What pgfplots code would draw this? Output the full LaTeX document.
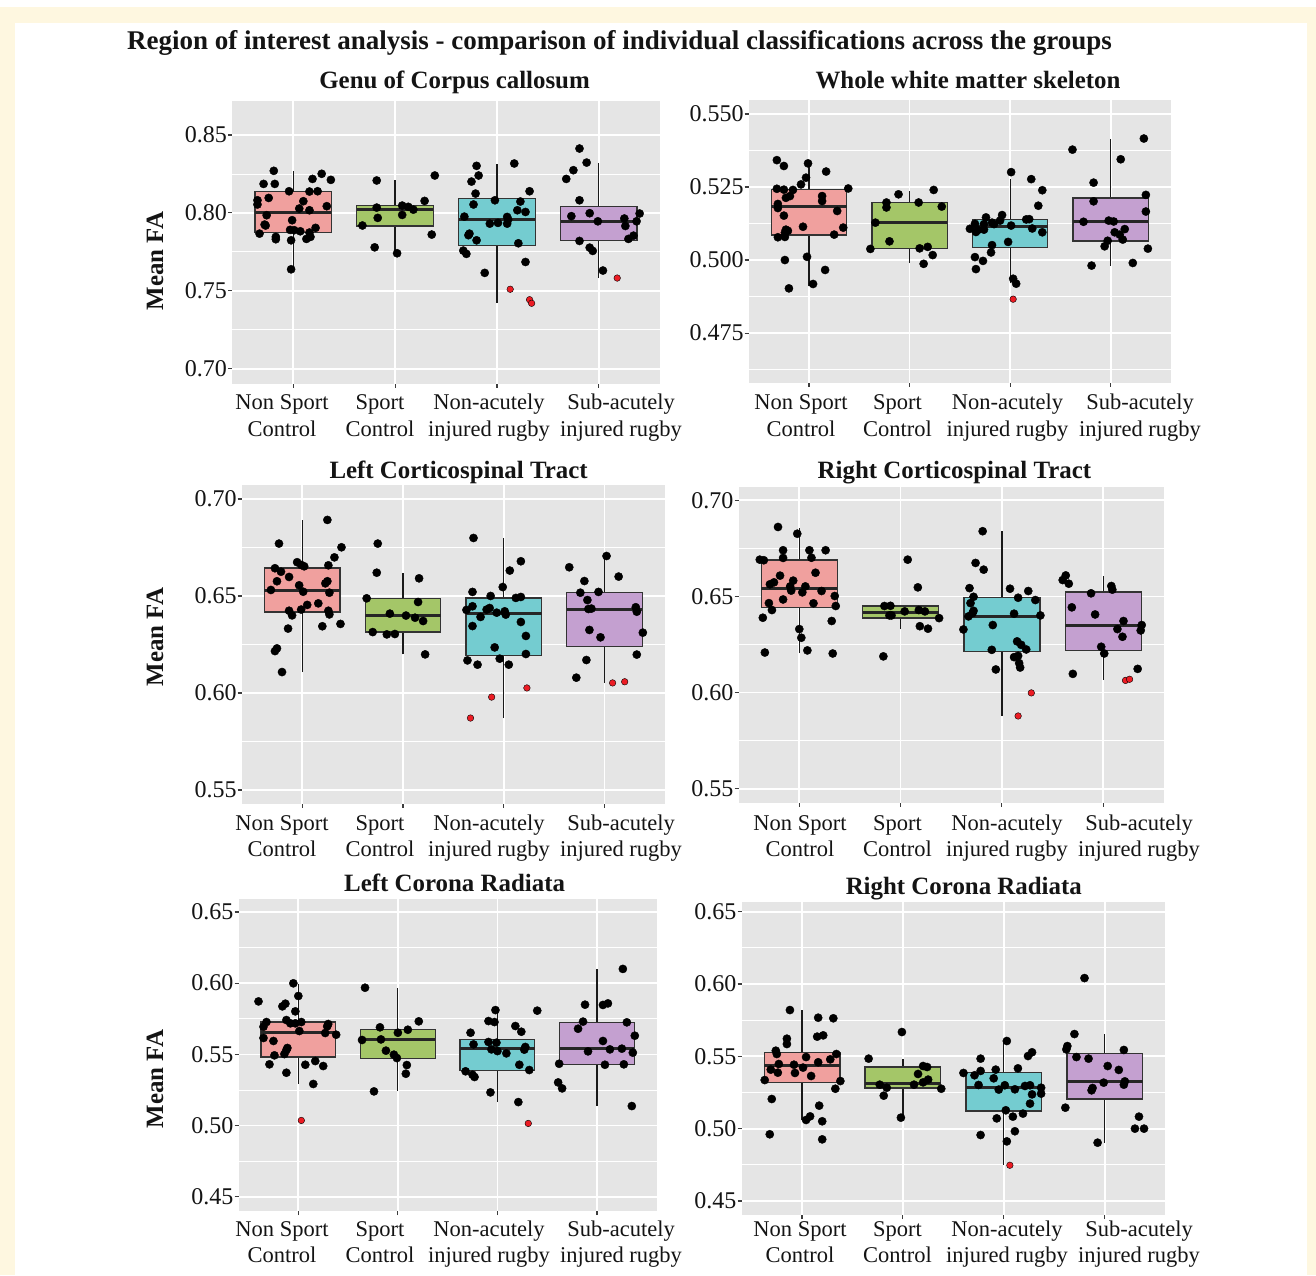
\documentclass[border=0pt]{standalone}
\usepackage{pgfplots}
\pgfplotsset{compat=1.18}
\usepackage{fontspec}
\setmainfont{Liberation Serif}

\definecolor{frameyellow}{RGB}{254,247,224}
\definecolor{panelgray}{RGB}{229,229,229}
\definecolor{boxline}{RGB}{51,51,51}
\definecolor{tickgray}{RGB}{60,60,60}
\definecolor{cpink}{RGB}{240,160,158}
\definecolor{cgreen}{RGB}{164,198,104}
\definecolor{ccyan}{RGB}{116,204,208}
\definecolor{cpurple}{RGB}{196,160,208}
\definecolor{outred}{RGB}{236,28,36}
\definecolor{txt}{RGB}{20,20,20}

\newcommand{\mainsize}{\fontsize{27}{27}\selectfont\bfseries}
\newcommand{\ttlsize}{\fontsize{24.9}{24.9}\selectfont\bfseries}
\newcommand{\ticksize}{\fontsize{24}{24}\selectfont}
\newcommand{\labsize}{\fontsize{22.5}{22.5}\selectfont}

\pgfplotsset{
  ggpanel/.style={
    scale only axis, anchor=south west,
    xmin=0.4, xmax=4.6,
    axis background/.style={fill=panelgray},
    axis line style={draw=none},
    xtick={1,2,3,4}, xticklabels={},
    tick pos=left,
    xmajorgrids, ymajorgrids, yminorgrids,
    major grid style={draw=white, line width=1.7pt},
    minor grid style={draw=white, line width=0.8pt},
    tick align=outside, major tick length=4pt, minor tick length=0pt,
    tick style={draw=tickgray, line width=1.1pt},
    yticklabel style={font=\ticksize, text=txt, anchor=east, inner sep=0pt, xshift=-1pt},
  },
  jit/.style={only marks, mark=*, mark size=4.1pt, mark options={draw=none, fill=black}},
  outl/.style={only marks, mark=*, mark size=3.3pt, mark options={draw=none, fill=outred}},
}

% box and whiskers: #1 position, #2 fill, #3 lower whisker, #4 Q1, #5 median, #6 Q3, #7 upper whisker
\newcommand{\ggbox}[7]{%
  \pgfmathsetmacro\bl{#1-0.375}\pgfmathsetmacro\br{#1+0.375}%
  \addplot[draw=black!90, line width=1.2pt] coordinates {(#1,#3) (#1,#4)};
  \addplot[draw=black!90, line width=1.2pt] coordinates {(#1,#6) (#1,#7)};
  \addplot[fill=#2, draw=boxline, line width=1.3pt] coordinates {(\bl,#4) (\br,#4) (\br,#6) (\bl,#6)} -- cycle;
  \addplot[draw=black!85, line width=3pt] coordinates {(\bl,#5) (\br,#5)};}

% two-line group names under a panel: #1 first baseline, #2 second baseline, #3-#6 centres (pt)
\newcommand{\grouplabels}[6]{%
  \node[anchor=base, font=\labsize, text=txt] at (#3pt,#1pt) {Non Sport};
  \node[anchor=base, font=\labsize, text=txt] at (#3pt,#2pt) {Control};
  \node[anchor=base, font=\labsize, text=txt] at (#4pt,#1pt) {Sport};
  \node[anchor=base, font=\labsize, text=txt] at (#4pt,#2pt) {Control};
  \node[anchor=base, font=\labsize, text=txt] at (#5pt,#1pt) {Non-acutely};
  \node[anchor=base, font=\labsize, text=txt] at (#5pt,#2pt) {injured rugby};
  \node[anchor=base, font=\labsize, text=txt] at (#6pt,#1pt) {Sub-acutely};
  \node[anchor=base, font=\labsize, text=txt] at (#6pt,#2pt) {injured rugby};}

\begin{document}
\begin{tikzpicture}
\fill[white] (0pt,0pt) rectangle (1316pt,1275pt);
\fill[frameyellow] (0pt,0pt) rectangle (1316pt,1268pt);
\fill[white] (15pt,0pt) rectangle (1307pt,1252pt);

\node[anchor=base, font=\mainsize, text=txt] at (619.5pt,1225pt)
  {Region of interest analysis - comparison of individual classifications across the groups};

% ---------------- Genu of Corpus callosum ----------------
\node[anchor=base, font=\ttlsize, text=txt] at (454.6pt,1186.7pt) {Genu of Corpus callosum};
\node[rotate=90, font=\ttlsize, text=txt] at (155pt,1014pt) {Mean FA};
\begin{axis}[ggpanel, at={(232pt,891pt)}, width=428pt, height=282.5pt,
  ymin=0.6902, ymax=0.8715,
  ytick={0.70,0.75,0.80,0.85}, yticklabels={0.70,0.75,0.80,0.85},
  minor ytick={0.725,0.775,0.825}]
\ggbox{1}{cpink}{0.7642}{0.7876}{0.8002}{0.8139}{0.8268}
\ggbox{2}{cgreen}{0.7741}{0.7916}{0.8024}{0.8047}{0.8208}
\ggbox{3}{ccyan}{0.7422}{0.7792}{0.7957}{0.8092}{0.8313}
\ggbox{4}{cpurple}{0.7582}{0.7822}{0.7946}{0.8043}{0.8321}
\addplot[jit] coordinates {(0.81,0.8270) (0.71,0.8186) (0.82,0.8186) (0.96,0.8139) (1.28,0.8251) (1.19,0.8218) (1.37,0.8212) (0.76,0.8096) (1.16,0.8137) (1.24,0.8139) (0.65,0.8081) (0.65,0.8054) (1.10,0.8075) (1.33,0.8043) (1.06,0.8028) (1.16,0.8017) (0.74,0.7985) (0.99,0.7953) (0.72,0.7925) (0.73,0.7919) (1.22,0.7904) (0.97,0.7891) (1.01,0.7889) (1.07,0.7882) (0.67,0.7867) (1.16,0.7874) (1.17,0.7846) (0.83,0.7846) (0.83,0.7831) (1.13,0.7833) (0.98,0.7824) (0.98,0.7638)};
\addplot[jit] coordinates {(1.82,0.8208) (2.39,0.8240) (2.29,0.8077) (2.07,0.8047) (2.13,0.8039) (2.18,0.8021) (1.82,0.8034) (2.07,0.7987) (1.83,0.7968) (1.68,0.7919) (2.36,0.7861) (1.80,0.7779) (2.02,0.7741)};
\addplot[jit] coordinates {(2.80,0.8302) (3.17,0.8317) (2.82,0.8240) (2.75,0.8201) (2.79,0.8124) (3.32,0.8139) (2.98,0.8081) (3.23,0.8073) (2.77,0.8054) (3.20,0.8017) (3.28,0.8006) (2.68,0.7976) (3.10,0.7974) (3.11,0.7957) (3.01,0.7936) (2.93,0.7931) (3.10,0.7931) (2.73,0.7867) (2.72,0.7857) (2.80,0.7824) (3.21,0.7805) (2.67,0.7758) (2.70,0.7737) (3.28,0.7685) (2.88,0.7615)};
\addplot[jit] coordinates {(3.81,0.8413) (3.88,0.8323) (3.75,0.8274) (3.68,0.8218) (3.81,0.8081) (3.73,0.7979) (3.91,0.7998) (3.99,0.7946) (4.25,0.7964) (4.26,0.7916) (4.37,0.7946) (4.40,0.7996) (3.81,0.7820) (3.91,0.7777) (3.94,0.7756) (4.29,0.7833) (4.34,0.7854) (4.04,0.7630)};
\addplot[outl] coordinates {(3.13,0.7510) (3.32,0.7443) (3.34,0.7420) (4.18,0.7582)};
\end{axis}
\grouplabels{865.7}{838.3}{282}{380}{489}{621}

% ---------------- Whole white matter skeleton ----------------
\node[anchor=base, font=\ttlsize, text=txt] at (968pt,1186pt) {Whole white matter skeleton};
\begin{axis}[ggpanel, at={(748.7pt,892pt)}, width=422.3pt, height=283.3pt,
  ymin=0.4579, ymax=0.5549,
  ytick={0.475,0.500,0.525,0.550}, yticklabels={0.475,0.500,0.525,0.550},
  minor ytick={0.4625,0.4875,0.5125,0.5375}]
\ggbox{1}{cpink}{0.4910}{0.5086}{0.5183}{0.5241}{0.5330}
\ggbox{2}{cgreen}{0.4989}{0.5040}{0.5128}{0.5197}{0.5237}
\ggbox{3}{ccyan}{0.4920}{0.5043}{0.5116}{0.5139}{0.5277}
\ggbox{4}{cpurple}{0.4981}{0.5065}{0.5131}{0.5212}{0.5414}
\addplot[jit] coordinates {(0.68,0.5342) (0.75,0.5322) (0.99,0.5331) (1.17,0.5303) (0.97,0.5282) (0.92,0.5259) (0.68,0.5244) (0.75,0.5241) (0.84,0.5240) (1.39,0.5245) (1.13,0.5219) (1.13,0.5202) (0.77,0.5213) (0.81,0.5219) (0.69,0.5192) (0.69,0.5178) (1.28,0.5168) (0.75,0.5152) (0.94,0.5114) (0.77,0.5104) (0.76,0.5094) (0.79,0.5100) (0.69,0.5078) (0.76,0.5079) (1.25,0.5087) (1.34,0.5111) (0.98,0.5011) (0.76,0.5000) (1.16,0.4966) (1.04,0.4918) (0.80,0.4903)};
\addplot[jit] coordinates {(1.89,0.5225) (2.24,0.5240) (1.77,0.5197) (2.09,0.5197) (1.77,0.5180) (2.32,0.5183) (1.66,0.5128) (1.80,0.5064) (1.61,0.5038) (2.10,0.5040) (2.18,0.5045) (2.23,0.5017) (2.14,0.4987)};
\addplot[jit] coordinates {(3.01,0.5301) (3.21,0.5277) (3.32,0.5239) (3.28,0.5186) (2.76,0.5146) (2.92,0.5154) (2.90,0.5135) (2.82,0.5128) (2.74,0.5123) (2.65,0.5124) (2.60,0.5107) (2.68,0.5103) (2.74,0.5104) (2.84,0.5123) (2.66,0.5096) (3.01,0.5118) (3.16,0.5139) (3.19,0.5140) (3.22,0.5108) (3.32,0.5095) (2.98,0.5062) (2.82,0.5051) (2.81,0.5026) (2.65,0.5010) (2.73,0.4997) (2.66,0.4969) (3.03,0.4936) (3.06,0.4919)};
\addplot[jit] coordinates {(3.62,0.5378) (4.33,0.5416) (4.10,0.5345) (3.83,0.5265) (4.35,0.5223) (3.83,0.5201) (4.35,0.5166) (3.73,0.5131) (3.98,0.5135) (4.03,0.5132) (4.14,0.5106) (4.04,0.5095) (4.09,0.5087) (4.12,0.5070) (3.97,0.5066) (3.94,0.5047) (4.37,0.5039) (3.81,0.4981) (4.22,0.4990)};
\addplot[outl] coordinates {(3.03,0.4866)};
\end{axis}
\grouplabels{865.7}{838.3}{801}{897.5}{1007.5}{1140}

% ---------------- Left Corticospinal Tract ----------------
\node[anchor=base, font=\ttlsize, text=txt] at (458.6pt,796pt) {Left Corticospinal Tract};
\node[rotate=90, font=\ttlsize, text=txt] at (155pt,638pt) {Mean FA};
\begin{axis}[ggpanel, at={(241.7pt,471pt)}, width=423.3pt, height=319pt,
  ymin=0.5428, ymax=0.7072,
  ytick={0.55,0.60,0.65,0.70}, yticklabels={0.55,0.60,0.65,0.70},
  minor ytick={0.575,0.625,0.675}]
\ggbox{1}{cpink}{0.6108}{0.6418}{0.6527}{0.6644}{0.6892}
\ggbox{2}{cgreen}{0.6199}{0.6314}{0.6399}{0.6488}{0.6619}
\ggbox{3}{ccyan}{0.5871}{0.6192}{0.6409}{0.6490}{0.6799}
\ggbox{4}{cpurple}{0.6053}{0.6241}{0.6428}{0.6519}{0.6710}
\addplot[jit] coordinates {(1.25,0.6892) (0.77,0.6770) (1.39,0.6751) (1.32,0.6699) (0.95,0.6674) (0.99,0.6660) (1.02,0.6653) (0.73,0.6643) (0.79,0.6625) (1.26,0.6658) (0.87,0.6598) (0.75,0.6576) (1.25,0.6576) (1.23,0.6565) (0.97,0.6555) (0.69,0.6531) (1.01,0.6522) (1.27,0.6517) (1.05,0.6454) (1.16,0.6462) (0.99,0.6430) (0.87,0.6424) (0.90,0.6400) (1.26,0.6424) (1.27,0.6405) (0.86,0.6332) (1.20,0.6344) (1.38,0.6356) (0.75,0.6230) (0.73,0.6216) (0.80,0.6108)};
\addplot[jit] coordinates {(1.75,0.6770) (1.74,0.6620) (2.16,0.6591) (1.64,0.6488) (2.15,0.6469) (1.87,0.6409) (2.03,0.6399) (2.12,0.6388) (2.20,0.6371) (1.70,0.6314) (1.84,0.6302) (1.92,0.6304) (2.22,0.6199)};
\addplot[jit] coordinates {(2.70,0.6799) (3.17,0.6679) (3.06,0.6631) (2.99,0.6546) (2.69,0.6521) (2.87,0.6500) (3.12,0.6490) (3.17,0.6495) (2.63,0.6428) (2.69,0.6447) (2.83,0.6430) (2.86,0.6438) (2.93,0.6414) (3.01,0.6421) (3.02,0.6404) (2.77,0.6392) (3.17,0.6366) (2.69,0.6345) (3.22,0.6294) (2.91,0.6235) (3.22,0.6201) (2.96,0.6177) (2.64,0.6168) (2.74,0.6146) (3.05,0.6146)};
\addplot[jit] coordinates {(4.02,0.6706) (3.65,0.6648) (4.14,0.6600) (3.80,0.6577) (3.76,0.6517) (3.94,0.6521) (3.83,0.6479) (3.84,0.6433) (3.87,0.6435) (4.31,0.6442) (4.32,0.6419) (4.38,0.6311) (3.85,0.6325) (3.96,0.6287) (4.32,0.6198) (3.82,0.6170) (3.72,0.6079)};
\addplot[outl] coordinates {(2.67,0.5871) (2.88,0.5979) (3.23,0.6026) (4.08,0.6052) (4.20,0.6058)};
\end{axis}
\grouplabels{445}{418.3}{282}{380}{489}{621}

% ---------------- Right Corticospinal Tract ----------------
\node[anchor=base, font=\ttlsize, text=txt] at (954.4pt,796pt) {Right Corticospinal Tract};
\begin{axis}[ggpanel, at={(738.5pt,472.3pt)}, width=425.5pt, height=315.7pt,
  ymin=0.5427, ymax=0.7069,
  ytick={0.55,0.60,0.65,0.70}, yticklabels={0.55,0.60,0.65,0.70},
  minor ytick={0.575,0.625,0.675}]
\ggbox{1}{cpink}{0.6205}{0.6443}{0.6543}{0.6689}{0.6858}
\ggbox{2}{cgreen}{0.6333}{0.6387}{0.6418}{0.6450}{0.6450}
\ggbox{3}{ccyan}{0.5878}{0.6215}{0.6396}{0.6495}{0.6839}
\ggbox{4}{cpurple}{0.6066}{0.6219}{0.6349}{0.6523}{0.6606}
\addplot[jit] coordinates {(0.79,0.6861) (0.98,0.6826) (0.84,0.6740) (1.10,0.6740) (1.26,0.6740) (0.61,0.6691) (0.65,0.6688) (0.84,0.6700) (1.12,0.6701) (1.16,0.6623) (0.81,0.6608) (0.71,0.6563) (0.75,0.6573) (0.94,0.6582) (0.91,0.6552) (0.92,0.6530) (1.06,0.6552) (1.03,0.6521) (1.22,0.6528) (1.35,0.6502) (0.70,0.6465) (0.84,0.6484) (1.14,0.6464) (0.73,0.6429) (1.36,0.6450) (0.64,0.6389) (1.32,0.6372) (1.00,0.6330) (1.02,0.6285) (1.08,0.6219) (0.66,0.6208) (1.33,0.6203)};
\addplot[jit] coordinates {(2.07,0.6691) (2.17,0.6547) (1.84,0.6450) (1.90,0.6451) (1.89,0.6401) (1.91,0.6401) (2.04,0.6422) (2.18,0.6429) (2.24,0.6422) (2.38,0.6387) (2.19,0.6345) (2.27,0.6332) (1.83,0.6188)};
\addplot[jit] coordinates {(2.81,0.6839) (2.74,0.6674) (2.82,0.6639) (2.68,0.6543) (3.08,0.6540) (3.26,0.6528) (2.72,0.6498) (3.16,0.6493) (3.33,0.6481) (2.69,0.6465) (2.72,0.6425) (2.71,0.6413) (2.67,0.6396) (3.12,0.6410) (3.38,0.6401) (2.91,0.6351) (2.62,0.6328) (3.15,0.6266) (3.19,0.6248) (3.24,0.6224) (2.90,0.6222) (3.16,0.6191) (3.12,0.6184) (3.17,0.6153) (3.18,0.6130) (2.94,0.6120)};
\addplot[jit] coordinates {(3.63,0.6609) (3.60,0.6585) (3.66,0.6566) (4.08,0.6554) (4.09,0.6535) (3.88,0.6516) (3.69,0.6443) (3.92,0.6406) (4.20,0.6372) (4.14,0.6330) (4.38,0.6351) (4.37,0.6323) (4.19,0.6290) (3.98,0.6238) (4.01,0.6203) (3.70,0.6097) (4.34,0.6123)};
\addplot[outl] coordinates {(3.29,0.5998) (3.16,0.5878) (4.22,0.6063) (4.26,0.6069)};
\end{axis}
\grouplabels{445}{418.5}{800}{897.5}{1007}{1139}

% ---------------- Left Corona Radiata ----------------
\node[anchor=base, font=\ttlsize, text=txt] at (454.6pt,383.3pt) {Left Corona Radiata};
\node[rotate=90, font=\ttlsize, text=txt] at (155pt,196pt) {Mean FA};
\begin{axis}[ggpanel, at={(238.6pt,64pt)}, width=418.1pt, height=311.7pt,
  ymin=0.4400, ymax=0.6589,
  ytick={0.45,0.50,0.55,0.60,0.65}, yticklabels={0.45,0.50,0.55,0.60,0.65},
  minor ytick={0.475,0.525,0.575,0.625}]
\ggbox{1}{cpink}{0.5294}{0.5481}{0.5652}{0.5727}{0.5996}
\ggbox{2}{cgreen}{0.5242}{0.5472}{0.5601}{0.5676}{0.5966}
\ggbox{3}{ccyan}{0.5165}{0.5385}{0.5542}{0.5603}{0.5814}
\ggbox{4}{cpurple}{0.5137}{0.5430}{0.5544}{0.5725}{0.6097}
\addplot[jit] coordinates {(0.95,0.5999) (1.00,0.5910) (0.60,0.5872) (0.84,0.5837) (0.87,0.5856) (0.97,0.5802) (0.88,0.5741) (0.68,0.5727) (0.65,0.5694) (0.92,0.5718) (0.97,0.5718) (1.03,0.5727) (1.30,0.5713) (1.29,0.5697) (1.01,0.5664) (0.65,0.5615) (0.75,0.5594) (1.27,0.5650) (1.38,0.5638) (0.89,0.5545) (0.88,0.5530) (0.86,0.5502) (0.76,0.5493) (0.71,0.5430) (1.07,0.5427) (1.17,0.5453) (1.25,0.5418) (0.88,0.5371) (1.15,0.5292)};
\addplot[jit] coordinates {(1.67,0.5968) (2.21,0.5732) (1.82,0.5690) (2.10,0.5673) (2.00,0.5652) (1.64,0.5601) (1.83,0.5605) (1.88,0.5526) (1.96,0.5498) (1.99,0.5474) (2.09,0.5425) (2.08,0.5364) (1.76,0.5240)};
\addplot[jit] coordinates {(2.98,0.5811) (3.40,0.5807) (2.91,0.5734) (2.97,0.5727) (3.18,0.5699) (3.24,0.5659) (2.73,0.5652) (2.91,0.5587) (2.76,0.5570) (2.99,0.5582) (2.94,0.5535) (3.00,0.5523) (3.09,0.5507) (3.28,0.5552) (3.27,0.5533) (3.22,0.5427) (3.32,0.5390) (2.68,0.5381) (2.75,0.5357) (2.77,0.5341) (2.93,0.5233) (3.21,0.5165)};
\addplot[jit] coordinates {(4.26,0.6100) (3.88,0.5849) (4.06,0.5847) (4.11,0.5858) (3.86,0.5730) (3.81,0.5680) (4.30,0.5725) (4.06,0.5594) (4.38,0.5631) (3.91,0.5521) (4.13,0.5535) (4.25,0.5540) (4.36,0.5512) (3.62,0.5434) (4.08,0.5427) (4.27,0.5430) (3.61,0.5303) (3.65,0.5261) (4.35,0.5137)};
\addplot[outl] coordinates {(1.03,0.5036) (3.31,0.5015)};
\end{axis}
\grouplabels{39}{12.3}{282}{380}{489}{621}

% ---------------- Right Corona Radiata ----------------
\node[anchor=base, font=\ttlsize, text=txt] at (963.8pt,380.7pt) {Right Corona Radiata};
\begin{axis}[ggpanel, at={(741.5pt,60pt)}, width=423.7pt, height=313pt,
  ymin=0.4403, ymax=0.6567,
  ytick={0.45,0.50,0.55,0.60,0.65}, yticklabels={0.45,0.50,0.55,0.60,0.65},
  minor ytick={0.475,0.525,0.575,0.625}]
\ggbox{1}{cpink}{0.5062}{0.5318}{0.5440}{0.5528}{0.5820}
\ggbox{2}{cgreen}{0.5076}{0.5281}{0.5311}{0.5426}{0.5482}
\ggbox{3}{ccyan}{0.4751}{0.5122}{0.5286}{0.5387}{0.5608}
\ggbox{4}{cpurple}{0.4903}{0.5205}{0.5329}{0.5518}{0.5652}
\addplot[jit] coordinates {(0.88,0.5820) (1.16,0.5767) (1.31,0.5763) (1.15,0.5636) (1.21,0.5645) (0.85,0.5622) (0.85,0.5585) (0.74,0.5539) (0.75,0.5516) (1.04,0.5495) (1.34,0.5516) (1.16,0.5459) (1.28,0.5479) (0.77,0.5447) (0.92,0.5442) (1.01,0.5422) (0.69,0.5408) (0.76,0.5387) (0.93,0.5385) (1.09,0.5364) (0.63,0.5336) (1.38,0.5329) (1.33,0.5276) (0.70,0.5205) (1.17,0.5159) (1.04,0.5060) (1.08,0.5085) (1.20,0.5051) (0.68,0.4961) (1.20,0.4926)};
\addplot[jit] coordinates {(1.99,0.5668) (1.66,0.5484) (2.20,0.5433) (2.24,0.5426) (2.15,0.5378) (2.25,0.5339) (2.20,0.5320) (1.77,0.5304) (1.84,0.5283) (2.11,0.5304) (2.38,0.5276) (1.81,0.5228) (1.98,0.5076)};
\addplot[jit] coordinates {(3.03,0.5606) (3.28,0.5528) (3.24,0.5502) (2.77,0.5484) (3.14,0.5417) (2.92,0.5408) (2.60,0.5385) (2.77,0.5399) (2.71,0.5369) (2.90,0.5348) (2.75,0.5302) (3.01,0.5300) (3.21,0.5295) (3.26,0.5300) (3.37,0.5283) (2.95,0.5270) (3.11,0.5272) (3.28,0.5237) (3.37,0.5242) (3.26,0.5173) (3.02,0.5127) (3.19,0.5104) (3.09,0.5083) (2.93,0.5071) (3.11,0.4982) (2.77,0.4956) (3.03,0.4912)};
\addplot[jit] coordinates {(3.80,0.6041) (3.70,0.5654) (3.63,0.5571) (3.62,0.5548) (4.19,0.5544) (3.72,0.5495) (3.84,0.5484) (4.03,0.5433) (4.14,0.5406) (3.99,0.5318) (4.20,0.5327) (4.19,0.5304) (3.88,0.5281) (3.87,0.5265) (3.61,0.5145) (4.34,0.5083) (4.30,0.5000) (4.39,0.5000) (3.93,0.4903)};
\addplot[outl] coordinates {(3.06,0.4747)};
\end{axis}
\grouplabels{39}{13}{800}{897.5}{1007}{1139}
\end{tikzpicture}
\end{document}
